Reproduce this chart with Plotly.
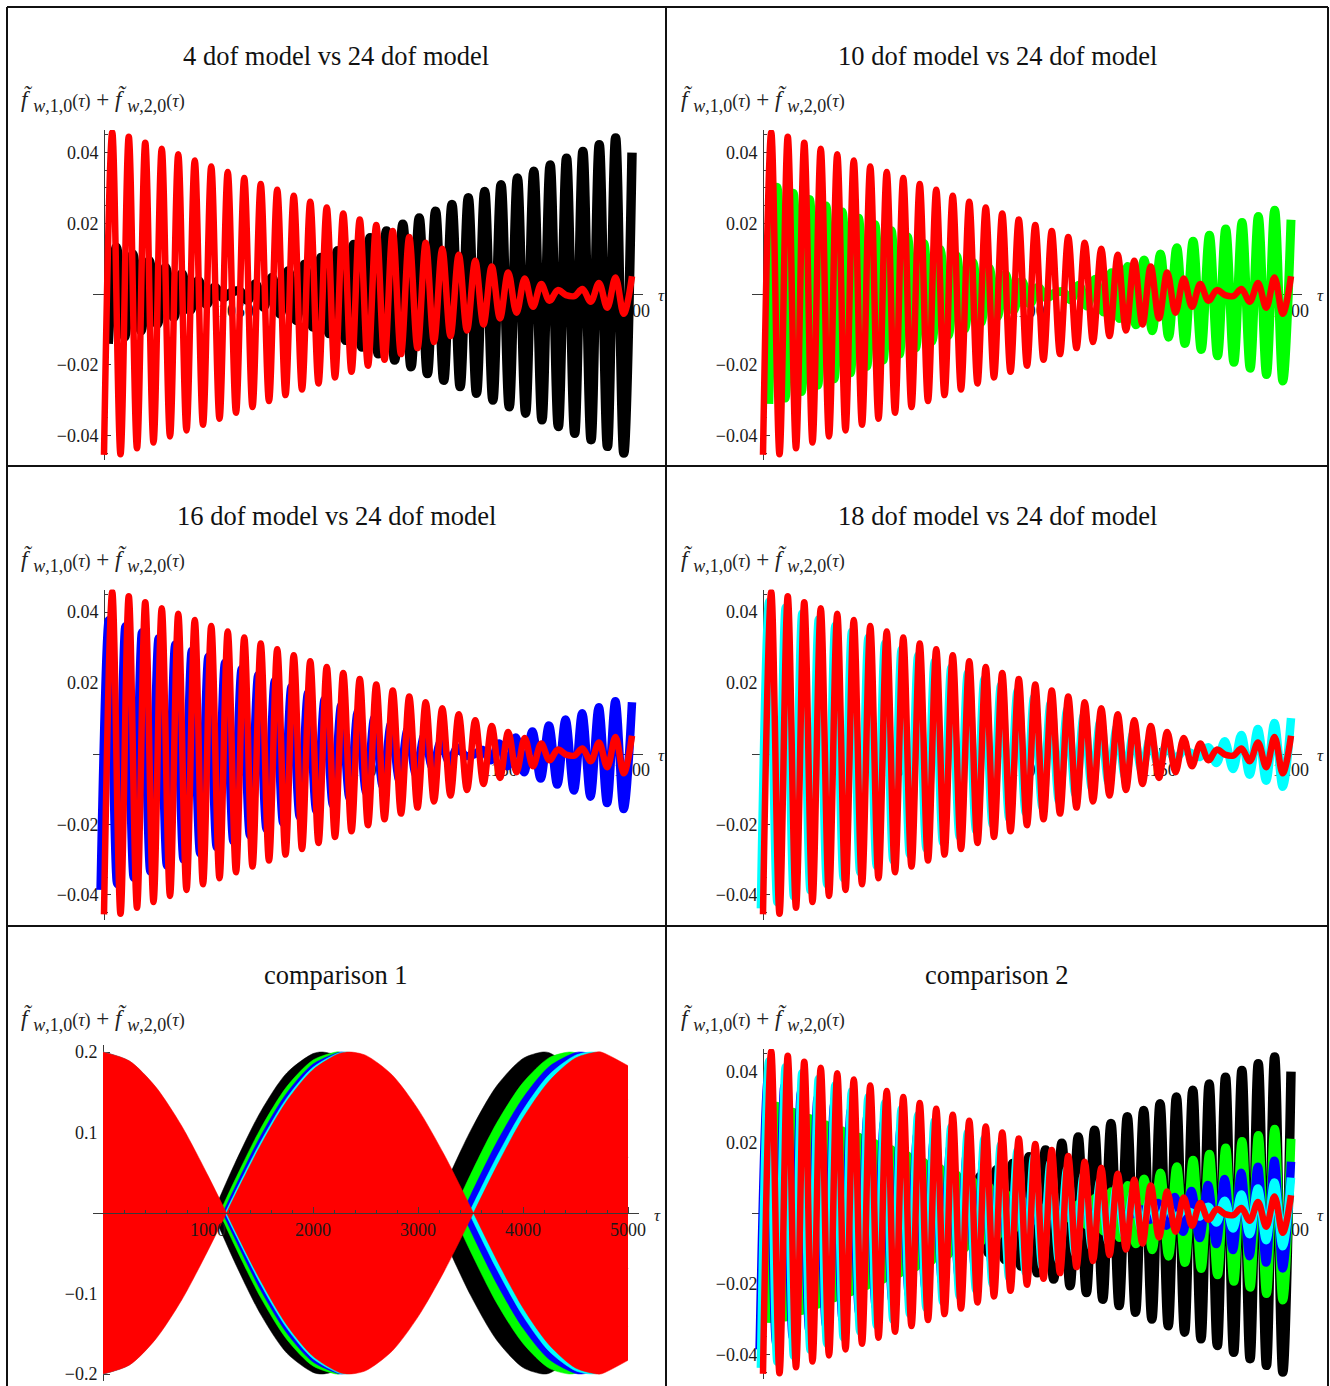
import plotly.graph_objects as go

W, H = 1330, 1386
FONT = "Liberation Serif"

# ---------------------------------------------------------------------------
# Window 1000 <= tau <= 1200: signed extremum values (alternating peaks and
# troughs) of f_w,1,0 + f_w,2,0, one value per half carrier cycle.
# Each model has its own extremum grid (first extremum, half-cycle length);
# all grids end on tau = 1200.
# ---------------------------------------------------------------------------
GRID = {
    "24": (1000.0, 3.125),
    "4": (1001.6, 3.1),
    "10": (1002.2, 3.090625),
    "16": (998.7, 3.1453125),
    "18": (999.2, 3.1375),
}

red_24 = [
    -0.0455, 0.0457, -0.0453, 0.0445, -0.0436, 0.0428, -0.0420, 0.0411, -0.0403, 0.0395,
    -0.0386, 0.0378, -0.0370, 0.0361, -0.0353, 0.0345, -0.0336, 0.0328, -0.0320, 0.0311,
    -0.0303, 0.0295, -0.0286, 0.0278, -0.0270, 0.0261, -0.0253, 0.0245, -0.0236, 0.0228,
    -0.0220, 0.0211, -0.0203, 0.0195, -0.0186, 0.0178, -0.0170, 0.0161, -0.0153, 0.0145,
    -0.0136, 0.0128, -0.0119, 0.0111, -0.0103, 0.0094, -0.0086, 0.0078, -0.0069, 0.0061,
    -0.0053, 0.0044, -0.0036, 0.0028, -0.0019, 0.0011, -0.0003, -0.0006, 0.0014, -0.0022,
    0.0031, -0.0039, 0.0047, -0.0056, 0.0050]

black_4 = [
    -0.0141, 0.0132, -0.0122, 0.0113, -0.0104, 0.0094, -0.0085, 0.0075, -0.0066, 0.0057,
    -0.0047, 0.0038, -0.0029, 0.0019, -0.0010, 0.0004, 0.0009, -0.0018, 0.0028, -0.0037,
    0.0047, -0.0056, 0.0065, -0.0075, 0.0084, -0.0093, 0.0103, -0.0112, 0.0122, -0.0131,
    0.0140, -0.0150, 0.0159, -0.0169, 0.0178, -0.0187, 0.0197, -0.0206, 0.0215, -0.0225,
    0.0234, -0.0244, 0.0253, -0.0262, 0.0272, -0.0281, 0.0290, -0.0300, 0.0309, -0.0319,
    0.0328, -0.0337, 0.0347, -0.0356, 0.0365, -0.0375, 0.0384, -0.0394, 0.0403, -0.0412,
    0.0422, -0.0431, 0.0441, -0.0450, 0.0400]

green_10 = [
    -0.0311, 0.0302, -0.0294, 0.0285, -0.0276, 0.0267, -0.0258, 0.0249, -0.0240, 0.0232,
    -0.0223, 0.0214, -0.0205, 0.0196, -0.0187, 0.0179, -0.0170, 0.0161, -0.0152, 0.0143,
    -0.0134, 0.0126, -0.0117, 0.0108, -0.0099, 0.0090, -0.0081, 0.0073, -0.0064, 0.0055,
    -0.0046, 0.0037, -0.0028, 0.0019, -0.0011, 0.0002, 0.0007, -0.0016, 0.0025, -0.0034,
    0.0042, -0.0051, 0.0060, -0.0069, 0.0078, -0.0087, 0.0096, -0.0104, 0.0113, -0.0122,
    0.0131, -0.0140, 0.0149, -0.0157, 0.0166, -0.0175, 0.0184, -0.0193, 0.0202, -0.0210,
    0.0219, -0.0228, 0.0237, -0.0246, 0.0210]

blue_16 = [
    -0.0386, 0.0377, -0.0369, 0.0360, -0.0351, 0.0343, -0.0334, 0.0326, -0.0317, 0.0308,
    -0.0300, 0.0291, -0.0282, 0.0274, -0.0265, 0.0257, -0.0248, 0.0239, -0.0231, 0.0222,
    -0.0214, 0.0205, -0.0196, 0.0188, -0.0179, 0.0171, -0.0162, 0.0153, -0.0145, 0.0136,
    -0.0127, 0.0119, -0.0110, 0.0102, -0.0093, 0.0084, -0.0076, 0.0067, -0.0059, 0.0050,
    -0.0041, 0.0033, -0.0024, 0.0016, -0.0007, -0.0002, 0.0010, -0.0019, 0.0028, -0.0036,
    0.0045, -0.0053, 0.0062, -0.0071, 0.0079, -0.0088, 0.0096, -0.0105, 0.0114, -0.0122,
    0.0131, -0.0140, 0.0148, -0.0157, 0.0145]

cyan_18 = [
    -0.0438, 0.0429, -0.0421, 0.0412, -0.0404, 0.0395, -0.0387, 0.0379, -0.0370, 0.0362,
    -0.0353, 0.0345, -0.0336, 0.0328, -0.0319, 0.0311, -0.0303, 0.0294, -0.0286, 0.0277,
    -0.0269, 0.0260, -0.0252, 0.0243, -0.0235, 0.0227, -0.0218, 0.0210, -0.0201, 0.0193,
    -0.0184, 0.0176, -0.0168, 0.0159, -0.0151, 0.0142, -0.0134, 0.0125, -0.0117, 0.0108,
    -0.0100, 0.0092, -0.0083, 0.0075, -0.0066, 0.0058, -0.0049, 0.0041, -0.0032, 0.0024,
    -0.0016, 0.0007, 0.0001, -0.0010, 0.0018, -0.0027, 0.0035, -0.0044, 0.0052, -0.0060,
    0.0069, -0.0077, 0.0086, -0.0094, 0.0100]

# ---------------------------------------------------------------------------
# Window 0 <= tau <= 5000: the carrier is too dense to resolve, so each model
# is drawn as the band between +envelope and -envelope (zeros of the
# envelope are listed explicitly).
# ---------------------------------------------------------------------------
env_tau_4 = [0, 250, 500, 750, 1000, 1047, 1250, 1500, 1750, 2000, 2094, 2250, 2500,
             2750, 3000, 3141, 3250, 3500, 3750, 4000, 4188, 4250, 4500, 4750, 5000]
env_4 = [0.2, 0.186, 0.146, 0.0862, 0.0141, 0.0, 0.0599, 0.1256, 0.174, 0.198, 0.2, 0.194,
         0.164, 0.111, 0.0421, 0.0, 0.0326, 0.102, 0.158, 0.192, 0.2, 0.199, 0.177, 0.132, 0.069]

env_tau_10 = [0, 250, 500, 750, 1000, 1110, 1250, 1500, 1750, 2000, 2220, 2250, 2500,
              2750, 3000, 3250, 3330, 3500, 3750, 4000, 4250, 4440, 4500, 4750, 5000]
env_10 = [0.2, 0.1876, 0.152, 0.0976, 0.031, 0.0, 0.0393, 0.1047, 0.157, 0.19, 0.2, 0.1999,
          0.184, 0.146, 0.09, 0.0225, 0.0, 0.0477, 0.112, 0.162, 0.193, 0.2, 0.199, 0.1805, 0.1404]

env_tau_16 = [0, 250, 500, 750, 1000, 1140, 1250, 1500, 1750, 2000, 2250, 2280, 2500,
              2750, 3000, 3250, 3420, 3500, 3750, 4000, 4250, 4500, 4560, 4750, 5000]
env_16 = [0.2, 0.188, 0.154, 0.102, 0.0383, 0.0, 0.0302, 0.0954, 0.149, 0.185, 0.1998, 0.2,
          0.191, 0.16, 0.11, 0.0467, 0.0, 0.022, 0.0879, 0.143, 0.182, 0.1993, 0.2, 0.193, 0.164]

env_tau_18 = [0, 250, 500, 750, 1000, 1162, 1250, 1500, 1750, 2000, 2250, 2324, 2500,
              2750, 3000, 3250, 3486, 3500, 3750, 4000, 4250, 4500, 4648, 4750, 5000]
env_18 = [0.2, 0.1887, 0.156, 0.1057, 0.0435, 0.0, 0.0237, 0.0882, 0.143, 0.181, 0.199, 0.2,
          0.194, 0.168, 0.122, 0.0625, 0.0, 0.0038, 0.0698, 0.128, 0.172, 0.196, 0.2, 0.198, 0.178]

env_tau_24 = [0, 250, 500, 750, 1000, 1176, 1250, 1500, 1750, 2000, 2250, 2352, 2500,
              2750, 3000, 3250, 3500, 3528, 3750, 4000, 4250, 4500, 4704, 4750, 5000]
env_24 = [0.2, 0.189, 0.157, 0.108, 0.0465, 0.0, 0.0198, 0.0838, 0.139, 0.178, 0.198, 0.2,
          0.196, 0.172, 0.129, 0.0723, 0.0075, 0.0, 0.0583, 0.118, 0.164, 0.1925, 0.2, 0.1997, 0.183]

# ---------------------------------------------------------------------------
COLORS = {"4": "#000000", "10": "#00ff00", "16": "#0000ff", "18": "#00ffff", "24": "#ff0000"}
WIDTHS = {"4": 9.5, "10": 9.0, "16": 8.5, "18": 8.5, "24": 6.5}
SHORT = {"4": black_4, "10": green_10, "16": blue_16, "18": cyan_18, "24": red_24}
LONG = {"4": (env_tau_4, env_4), "10": (env_tau_10, env_10), "16": (env_tau_16, env_16),
        "18": (env_tau_18, env_18), "24": (env_tau_24, env_24)}


def tau_nodes(model):
    t0, half = GRID[model]
    return [t0 + half * i for i in range(len(SHORT[model]))]


SUB = "<sub><span style='font-size:18px'><i>w</i>,{},0</span></sub>"
PAR = "<span style='font-size:18px'>(<i>\u03c4</i>)</span>"
YLABEL = ("<i>f\u0303</i> " + SUB.format(1) + PAR +
          " + <i>f\u0303</i> " + SUB.format(2) + PAR)

# panel geometry in page pixels
COL_DX = [0, 659]
ROW_DY = [0, 459.5, 919]
panels = [
    dict(title="4 dof model vs 24 dof model", col=0, row=0, kind="short", models=["4", "24"]),
    dict(title="10 dof model vs 24 dof model", col=1, row=0, kind="short", models=["10", "24"]),
    dict(title="16 dof model vs 24 dof model", col=0, row=1, kind="short", models=["16", "24"]),
    dict(title="18 dof model vs 24 dof model", col=1, row=1, kind="short", models=["18", "24"]),
    dict(title="comparison 1", col=0, row=2, kind="long", models=["4", "10", "16", "18", "24"]),
    dict(title="comparison 2", col=1, row=2, kind="short", models=["4", "10", "16", "18", "24"]),
]


def fx(p):
    return p / W


def fy(p):
    return 1 - p / H


def minus(v, fmt):
    s = fmt.format(abs(v))
    return ("\u2212" + s) if v < 0 else s


def lobes(taus, env):
    """Split an envelope into arches that run from one zero to the next."""
    out, cur = [], []
    for t, v in zip(taus, env):
        cur.append((t, v))
        if v == 0 and len(cur) > 1:
            out.append(cur)
            cur = [(t, v)]
    if len(cur) > 1:
        out.append(cur)
    return out


fig = go.Figure()
layout = dict(width=W, height=H,
              margin=dict(l=0, r=0, t=0, b=0, pad=0, autoexpand=False),
              paper_bgcolor="white", plot_bgcolor="rgba(0,0,0,0)",
              showlegend=False, font=dict(family=FONT, color="#111"))
annotations = []
shapes = []
tick_font = dict(family=FONT, size=18, color="#1a1a1a")
axis_color = "#3a3a3a"

for i, p in enumerate(panels):
    k = "" if i == 0 else str(i + 1)
    dx, dy = COL_DX[p["col"]], ROW_DY[p["row"]]
    if p["kind"] == "short":
        org_tau, org_px, sx = 1000.0, 104 + dx, 2.64
        xr = [996, 1204]
        zero_px, sy = 294 + dy, 3535.0
        dom_top, dom_bot = 130 + dy, 460 + dy
        xt = [1050, 1100, 1150, 1200]
        xminor = [1000 + 10 * j for j in range(1, 21) if j % 5]
        yt = [-0.04, -0.02, 0.02, 0.04]
        yminor = [m * 0.005 for m in range(-9, 10) if m % 4 and m]
        yfmt = "{:.2f}"
        xlayer = "below traces"
    else:
        org_tau, org_px, sx = 0.0, 103 + dx, 0.105
        xr = [-100, 5100]
        zero_px, sy = 1213.0, 805.0
        dom_top, dom_bot = 1045, 1381
        xt = [1000, 2000, 3000, 4000, 5000]
        xminor = [200 * j for j in range(1, 26) if j % 5]
        yt = [-0.2, -0.1, 0.1, 0.2]
        yminor = [m * 0.02 for m in range(-10, 11) if m % 5]
        yfmt = "{:.1f}"
        xlayer = "above traces"

    xl = org_px + (xr[0] - org_tau) * sx
    xrp = org_px + (xr[1] - org_tau) * sx
    yr = [-(dom_bot - zero_px) / sy, (zero_px - dom_top) / sy]

    layout["xaxis" + k] = dict(
        domain=[fx(xl), fx(xrp)], range=xr, anchor="free", position=fy(zero_px),
        automargin=False,
        showline=True, linecolor=axis_color, linewidth=1, showgrid=False, zeroline=False,
        ticks="inside", ticklen=6, tickwidth=1, tickcolor=axis_color,
        tickmode="array", tickvals=xt, ticktext=[str(v) for v in xt],
        tickfont=tick_font, ticklabelstandoff=0, layer=xlayer,
        minor=dict(ticks="inside", ticklen=3, tickcolor=axis_color, tickmode="array",
                   tickvals=xminor, showgrid=False),
        fixedrange=True)
    layout["yaxis" + k] = dict(
        domain=[fy(dom_bot), fy(dom_top)], range=yr, anchor="free", position=fx(org_px),
        automargin=False,
        showline=True, linecolor=axis_color, linewidth=1, showgrid=False, zeroline=False,
        ticks="inside", ticklen=6, tickwidth=1, tickcolor=axis_color,
        tickmode="array", tickvals=yt, ticktext=[minus(v, yfmt) for v in yt],
        tickfont=tick_font, ticklabelstandoff=2, layer="below traces",
        minor=dict(ticks="inside", ticklen=3, tickcolor=axis_color, tickmode="array",
                   tickvals=yminor, showgrid=False),
        fixedrange=True)

    xa, ya = "x" + k, "y" + k
    for m in p["models"]:
        if p["kind"] == "short":
            fig.add_trace(go.Scatter(
                x=tau_nodes(m), y=SHORT[m], mode="lines", xaxis=xa, yaxis=ya,
                line=dict(color=COLORS[m], width=WIDTHS[m], shape="spline",
                          smoothing=1.0, simplify=False),
                hoverinfo="skip"))
        else:
            taus, env = LONG[m]
            for arch in lobes(taus, env):
                for sgn in (1, -1):
                    fig.add_trace(go.Scatter(
                        x=[t for t, _ in arch], y=[sgn * v for _, v in arch],
                        mode="lines", fill="tozeroy", fillcolor=COLORS[m],
                        line=dict(color=COLORS[m], width=0.5, shape="spline", smoothing=0.8),
                        xaxis=xa, yaxis=ya, hoverinfo="skip"))

    # title, vertical-axis label and tau label
    annotations.append(dict(text=p["title"], x=fx(336 + 661 * p["col"]), y=fy(56 + dy),
                            xref="paper", yref="paper", xanchor="center", yanchor="middle",
                            showarrow=False, font=dict(family=FONT, size=26.5, color="#111")))
    annotations.append(dict(text=YLABEL, x=fx(19 + 660 * p["col"]), y=fy(101 + dy),
                            xref="paper", yref="paper", xanchor="left", yanchor="middle",
                            showarrow=False, font=dict(family=FONT, size=23, color="#222")))
    annotations.append(dict(text="<i>\u03c4</i>", x=fx(xrp + 19), y=fy(zero_px + 2),
                            xref="paper", yref="paper", xanchor="center", yanchor="middle",
                            showarrow=False, font=dict(family=FONT, size=17, color="#222")))

# table rules around and between the panels
for x0, y0, x1, y1 in [(7, 7, 1328, 7), (7, 7, 7, H), (1328, 7, 1328, H), (666, 7, 666, H),
                       (7, 466, 1328, 466), (7, 926, 1328, 926)]:
    shapes.append(dict(type="line", xref="paper", yref="paper",
                       x0=fx(x0), y0=fy(y0), x1=fx(x1), y1=fy(y1),
                       line=dict(color="#111", width=2)))

layout["annotations"] = annotations
layout["shapes"] = shapes
fig.update_layout(**layout)
fig.write_html("out.html")
